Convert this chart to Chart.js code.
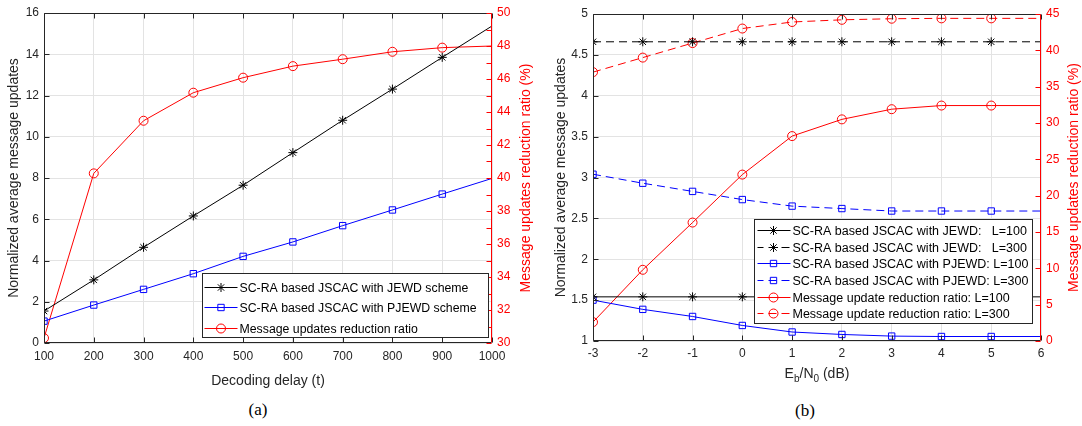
<!DOCTYPE html>
<html>
<head>
<meta charset="utf-8">
<script src="https://cdn.jsdelivr.net/npm/chart.js@4.4.0/dist/chart.umd.min.js"></script>
<style>
	body { margin: 0; background: #fff; width: 1082px; height: 426px; position: relative; overflow: hidden; font-family: "Liberation Sans", Arial, sans-serif; }
	#chartA { position: absolute; left: 0; top: 0; }
	#chartB { position: absolute; left: 540px; top: 0; }
	.cap { position: absolute; width: 100px; text-align: center; font-family: "Liberation Serif", "Times New Roman", serif; font-size: 17px; line-height: 20px; color: #000; }
	#xTitleB { position: absolute; left: 593px; width: 448px; top: 364px; text-align: center; font-size: 14px; line-height: 18px; color: #262626; }
	#xTitleB sub { font-size: 10px; vertical-align: -4px; line-height: 0; }
</style>
</head>
<body>
<canvas id="chartA" width="540" height="390"></canvas>
<canvas id="chartB" width="542" height="390"></canvas>
<div id="xTitleB">E<sub>b</sub>/N<sub>0</sub> (dB)</div>
<div class="cap" style="left:208px; top:400px;">(a)</div>
<div class="cap" style="left:755px; top:401px;">(b)</div>
<script>
// ---- (a) data: decoding delay ----
const delays = [100, 200, 300, 400, 500, 600, 700, 800, 900, 1000];
const jewdA = [1.55, 3.06, 4.64, 6.16, 7.65, 9.23, 10.8, 12.31, 13.85, 15.37];
const pjewdA = [1.06, 1.84, 2.6, 3.36, 4.2, 4.9, 5.69, 6.45, 7.22, 7.98];
const ratioA = [30.3, 40.28, 43.47, 45.17, 46.08, 46.78, 47.2, 47.65, 47.9, 48.0];
const labelsA = [
	"SC-RA based JSCAC with JEWD scheme",
	"SC-RA based JSCAC with PJEWD scheme",
	"Message updates reduction ratio"
];

// ---- (b) data: Eb/N0 ----
const snr = [-3, -2, -1, 0, 1, 2, 3, 4, 5, 6];
const jewdL100 = [1.54, 1.54, 1.54, 1.54, 1.54, 1.54, 1.54, 1.54, 1.54, 1.54];
const jewdL300 = [4.66, 4.66, 4.66, 4.66, 4.66, 4.66, 4.66, 4.66, 4.66, 4.66];
const pjewdL100 = [1.5, 1.387, 1.3, 1.19, 1.11, 1.08, 1.06, 1.055, 1.055, 1.055];
const pjewdL300 = [3.04, 2.93, 2.83, 2.73, 2.65, 2.62, 2.59, 2.59, 2.59, 2.59];
const ratioL100 = [2.6, 9.8, 16.3, 22.9, 28.2, 30.5, 31.9, 32.4, 32.4, 32.4];
const ratioL300 = [37.0, 39.0, 41.0, 43.0, 43.9, 44.2, 44.35, 44.4, 44.4, 44.4];
const labelsB = [
	"SC-RA based JSCAC with JEWD:   L=100",
	"SC-RA based JSCAC with JEWD:   L=300",
	"SC-RA based JSCAC with PJEWD: L=100",
	"SC-RA based JSCAC with PJEWD: L=300",
	"Message update reduction ratio: L=100",
	"Message update reduction ratio: L=300"
];

const yTitle = "Normalized average message updates";
const yTitleRight = "Message updates reduction ratio (%)";

Chart.defaults.font.family = '"Liberation Sans", Arial, Helvetica, sans-serif';
Chart.defaults.font.size = 12;
Chart.defaults.color = "#262626";
Chart.defaults.animation = false;

const GRID = "#e3e3e3";
const AXIS = "#262626";
const RED = "#ff0000";
const BLUE = "#0000ff";

function series(label, xs, ys, color, style, axis, dashed) {
	const last = xs.length - 1;
	return {
		label: label,
		data: xs.map((x, i) => ({ x: x, y: ys[i] })),
		yAxisID: axis,
		borderColor: color,
		borderWidth: 1,
		borderDash: dashed ? [8, 5] : [],
		pointStyle: style,
		pointBorderColor: color,
		pointBackgroundColor: "rgba(0,0,0,0)",
		pointBorderWidth: 1,
		// no marker on the last point (it sits on the axis edge)
		pointRadius: ctx => ctx.dataIndex === last ? 0 : 4.5,
		tension: 0
	};
}

// marker for the legend
function marker(ctx, style, x, y, r) {
	ctx.beginPath();
	if (style === "star") {
		const d = r * 0.707;
		ctx.moveTo(x - r, y); ctx.lineTo(x + r, y);
		ctx.moveTo(x, y - r); ctx.lineTo(x, y + r);
		ctx.moveTo(x - d, y - d); ctx.lineTo(x + d, y + d);
		ctx.moveTo(x - d, y + d); ctx.lineTo(x + d, y - d);
	} else if (style === "rect") {
		const s = r * 0.707;
		ctx.rect(x - s, y - s, 2 * s, 2 * s);
	} else {
		ctx.arc(x, y, r, 0, Math.PI * 2);
	}
	ctx.stroke();
}

/* =========================================
	box, inward ticks, right title
=========================================*/
const frame = {
	id: "frame",
	afterDatasetsDraw(chart, args, opts) {
		const { ctx, chartArea: a, scales } = chart;
		const len = 5;
		const L = Math.round(a.left) + 0.5, R = Math.round(a.right) - 0.5;
		const T = Math.round(a.top) + 0.5, B = Math.round(a.bottom) - 0.5;
		ctx.save();
		ctx.lineWidth = 1;
		ctx.strokeStyle = AXIS;
		ctx.beginPath();
		ctx.moveTo(R, T); ctx.lineTo(L, T); ctx.lineTo(L, B); ctx.lineTo(R, B);
		scales.x.ticks.forEach(t => {
			const px = Math.round(scales.x.getPixelForValue(t.value)) + 0.5;
			ctx.moveTo(px, B); ctx.lineTo(px, B - len);
			ctx.moveTo(px, T); ctx.lineTo(px, T + len);
		});
		scales.y.ticks.forEach(t => {
			const py = Math.round(scales.y.getPixelForValue(t.value)) + 0.5;
			ctx.moveTo(L, py); ctx.lineTo(L + len, py);
		});
		ctx.stroke();

		ctx.strokeStyle = RED;
		ctx.beginPath();
		ctx.moveTo(R, T); ctx.lineTo(R, B);
		scales.y1.ticks.forEach(t => {
			const py = Math.round(scales.y1.getPixelForValue(t.value)) + 0.5;
			ctx.moveTo(R, py); ctx.lineTo(R - len, py);
		});
		ctx.stroke();

		// right axis title, reading upwards like the left one
		ctx.fillStyle = RED;
		ctx.font = '14px "Liberation Sans", Arial, sans-serif';
		ctx.textAlign = "center";
		ctx.textBaseline = "middle";
		ctx.translate(opts.titleX, (a.top + a.bottom) / 2);
		ctx.rotate(-Math.PI / 2);
		ctx.fillText(yTitleRight, 0, 0);
		ctx.restore();
	}
};

/* =========================================
	legend box inside the plot
=========================================*/
const boxLegend = {
	id: "boxLegend",
	afterDraw(chart, args, o) {
		const { ctx, chartArea: a } = chart;
		const x0 = Math.round(a.right - o.right - o.width) + 0.5;
		const y0 = Math.round(a.bottom - o.bottom - o.height) + 0.5;
		ctx.save();
		ctx.fillStyle = "#fff";
		ctx.fillRect(x0, y0, o.width, o.height);
		ctx.strokeStyle = AXIS;
		ctx.lineWidth = 1;
		ctx.strokeRect(x0, y0, o.width, o.height);
		chart.data.datasets.forEach((ds, i) => {
			const y = Math.round(y0 + o.first + i * o.rowH) + 0.5;
			ctx.strokeStyle = ds.borderColor;
			ctx.setLineDash(ds.borderDash);
			ctx.lineDashOffset = 2;
			ctx.beginPath();
			ctx.moveTo(x0 + o.lineFrom, y);
			ctx.lineTo(x0 + o.lineTo, y);
			ctx.stroke();
			ctx.setLineDash([]);
			marker(ctx, ds.pointStyle, x0 + o.mark, y, 4.5);
			ctx.fillStyle = "#000";
			ctx.font = o.font;
			ctx.textBaseline = "middle";
			ctx.fillText(ds.label, x0 + o.text, y + 1);
		});
		ctx.restore();
	}
};

function xScale(min, max, step, height, pad, title) {
	return {
		type: "linear",
		min: min,
		max: max,
		ticks: { stepSize: step, padding: pad, autoSkip: false, maxRotation: 0, color: AXIS, callback: v => v },
		grid: { color: GRID, drawTicks: false },
		border: { display: false },
		title: { display: !!title, text: title, color: AXIS, font: { size: 14 }, padding: { top: 6, bottom: 0 } },
		afterFit: s => { s.height = height; }
	};
}

function yLeft(min, max, step, width, titlePad) {
	return {
		position: "left",
		min: min,
		max: max,
		ticks: { stepSize: step, padding: 5, color: AXIS, callback: v => v },
		grid: { color: GRID, drawTicks: false },
		border: { display: false },
		title: { display: true, text: yTitle, color: AXIS, font: { size: 14 }, padding: { top: titlePad, bottom: 0 } },
		afterFit: s => { s.width = width; }
	};
}

function yRight(min, max, step, width, labelEvery) {
	return {
		position: "right",
		min: min,
		max: max,
		ticks: {
			stepSize: step, padding: 5, color: RED, autoSkip: false,
			callback: v => (v % labelEvery === 0 ? v : "")
		},
		grid: { drawOnChartArea: false, drawTicks: false },
		border: { display: false },
		afterFit: s => { s.width = width; }
	};
}

/* ---------- (a) ---------- */
new Chart(document.getElementById("chartA"), {
	type: "line",
	data: {
		datasets: [
			series(labelsA[0], delays, jewdA, "#000000", "star", "y", false),
			series(labelsA[1], delays, pjewdA, BLUE, "rect", "y", false),
			series(labelsA[2], delays, ratioA, RED, "circle", "y1", false)
		]
	},
	options: {
		responsive: false,
		devicePixelRatio: 1,
		layout: { padding: { top: 13, left: 0, right: 0, bottom: 0 } },
		plugins: {
			legend: { display: false },
			tooltip: { enabled: false },
			frame: { titleX: 526 },
			boxLegend: {
				right: 4, bottom: 6, width: 286, height: 64,
				first: 13, rowH: 20.5, lineFrom: 2, lineTo: 35, mark: 18.5, text: 37,
				font: '12.3px "Liberation Sans", Arial, sans-serif'
			}
		},
		scales: {
			x: xScale(100, 1000, 100, 47, 6, "Decoding delay (t)"),
			y: yLeft(0, 16, 2, 44, 6),
			y1: yRight(30, 50, 1, 48, 2)
		}
	},
	plugins: [frame, boxLegend]
});

/* ---------- (b) ---------- */
new Chart(document.getElementById("chartB"), {
	type: "line",
	data: {
		datasets: [
			series(labelsB[0], snr, jewdL100, "#000000", "star", "y", false),
			series(labelsB[1], snr, jewdL300, "#000000", "star", "y", true),
			series(labelsB[2], snr, pjewdL100, BLUE, "rect", "y", false),
			series(labelsB[3], snr, pjewdL300, BLUE, "rect", "y", true),
			series(labelsB[4], snr, ratioL100, RED, "circle", "y1", false),
			series(labelsB[5], snr, ratioL300, RED, "circle", "y1", true)
		]
	},
	options: {
		responsive: false,
		devicePixelRatio: 1,
		layout: { padding: { top: 14, left: 0, right: 0, bottom: 0 } },
		plugins: {
			legend: { display: false },
			tooltip: { enabled: false },
			frame: { titleX: 534 },
			boxLegend: {
				right: 9, bottom: 18, width: 278, height: 104,
				first: 10.5, rowH: 16.65, lineFrom: 3, lineTo: 36, mark: 19, text: 38,
				font: '12.5px "Liberation Sans", Arial, sans-serif'
			}
		},
		scales: {
			x: xScale(-3, 6, 1, 49, 5, ""),
			y: yLeft(1, 5, 0.5, 53, 13),
			y1: yRight(0, 45, 5, 41, 5)
		}
	},
	plugins: [frame, boxLegend]
});
</script>
</body>
</html>
